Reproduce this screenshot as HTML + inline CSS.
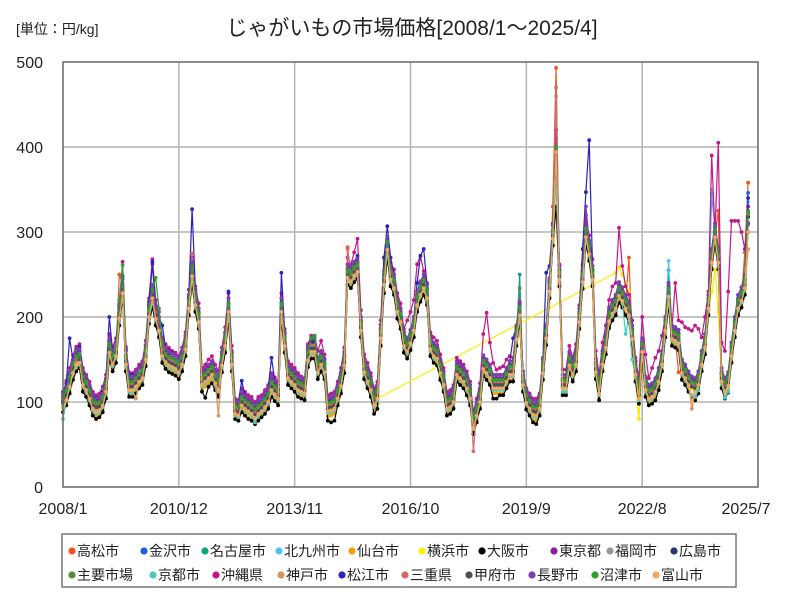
<!DOCTYPE html>
<html><head><meta charset="utf-8"><style>
html,body{margin:0;padding:0;background:#fff;}
body{width:800px;height:600px;overflow:hidden;font-family:"Liberation Sans","Noto Sans CJK JP",sans-serif;}
svg text{font-family:"Liberation Sans","Noto Sans CJK JP",sans-serif;}
</style></head><body>
<svg id="chart" width="800" height="600" xmlns="http://www.w3.org/2000/svg">
<rect width="800" height="600" fill="#fff"/>
<text x="16" y="34" font-size="14" fill="#222">[単位：円/kg]</text>
<text x="412" y="35" font-size="21" text-anchor="middle" fill="#222">じゃがいもの市場価格[2008/1～2025/4]</text>
<g id="grid"></g>
<g id="series"></g>
<rect x="63" y="62" width="695" height="425" fill="none" stroke="#666" stroke-width="1.5"/>
<g id="axes"></g>
<rect x="62" y="534" width="674" height="53" fill="#fff" stroke="#777" stroke-width="1.5"/>
<g id="legend"></g>
</svg>
<script>
const xTickLabels=["2008/1","2010/12","2013/11","2016/10","2019/9","2022/8","2025/7"];
const yTicks=[0,100,200,300,400,500];
const seriesNames=["高松市","金沢市","名古屋市","北九州市","仙台市","横浜市","大阪市","東京都","福岡市","広島市","主要市場","京都市","沖縄県","神戸市","松江市","三重県","甲府市","長野市","沼津市","富山市"];
const seriesColors=["#f4511e","#1a5fe0","#0aa37f","#4fc3f7","#f5a20a","#ffee00","#000000","#8e1a99","#8c9aa6","#283572","#5b8a3a","#4dc9b8","#c2188b","#dd9060","#2b22b8","#d46a6a","#4a4e5a","#7b3fb0","#2ca02c","#f0a860"];
const s0=[100,108,128,138,155,150,124,118,105,95,92,94,100,115,160,148,158,250,240,145,118,116,120,128,130,150,200,225,200,185,158,150,146,144,142,138,148,165,210,250,218,195,120,126,130,135,125,116,145,168,205,145,88,86,98,95,92,90,84,90,92,96,102,116,112,106,200,168,130,126,122,116,114,112,150,160,160,138,146,138,92,92,95,106,122,145,282,245,250,255,185,138,126,116,98,106,178,240,280,245,236,208,196,168,160,170,186,215,228,235,222,164,156,152,136,122,95,97,102,134,130,126,118,106,72,88,102,140,136,130,118,118,118,118,126,134,134,176,234,122,102,95,88,88,95,136,178,232,330,493,240,118,118,145,134,146,196,242,296,276,246,136,112,146,166,198,206,212,226,222,212,270,176,134,106,160,116,106,108,114,126,146,186,225,176,174,135,136,130,122,116,114,122,146,166,212,265,296,325,126,114,122,156,186,214,222,276,358];
const s1=[105,112,130,145,152,155,130,124,112,100,98,98,105,120,168,152,162,208,238,152,122,122,127,132,137,160,210,230,206,192,162,155,150,150,148,143,153,170,220,258,222,202,128,132,137,140,130,122,152,175,215,152,95,92,105,100,97,95,90,95,98,103,108,123,118,112,215,175,137,132,128,123,121,118,158,168,168,144,152,144,98,98,100,112,128,152,255,250,258,262,193,144,132,123,105,112,184,247,290,252,243,215,203,175,168,178,193,224,235,243,230,171,163,160,143,130,100,103,108,141,137,133,125,112,78,93,108,148,143,137,125,125,125,125,133,141,141,183,210,129,108,100,94,92,100,143,184,240,302,410,255,125,125,152,141,153,203,250,305,283,253,144,119,153,173,205,213,219,235,228,219,211,183,141,113,168,123,113,115,121,133,153,193,233,183,181,178,143,137,129,123,121,129,153,173,219,345,305,273,133,121,128,163,193,219,228,243,346];
const s2=[98,106,120,137,146,149,122,116,106,94,90,92,98,114,160,146,156,200,230,146,116,115,120,126,130,152,200,222,200,186,156,149,145,143,141,137,146,164,212,250,216,196,122,126,130,134,124,116,145,168,208,146,88,86,98,94,91,88,80,88,91,96,102,116,111,106,208,168,130,126,122,116,114,112,151,161,161,137,146,137,91,92,94,106,121,145,248,244,251,255,186,137,126,116,98,106,177,240,281,246,236,208,196,168,161,171,186,216,228,236,224,164,156,153,136,122,94,96,102,134,130,126,118,106,72,86,102,141,136,130,118,118,118,118,126,134,134,176,250,122,101,94,87,86,94,136,177,232,294,390,246,118,118,145,134,146,196,243,296,276,246,137,112,146,166,197,206,212,227,221,212,204,176,134,106,161,116,106,108,114,126,146,186,255,176,174,171,136,130,122,116,114,122,146,166,212,266,296,266,126,112,121,156,186,212,221,236,325];
const s3=[108,116,131,147,156,159,132,126,116,104,101,102,108,124,171,156,166,211,241,156,126,126,130,136,140,163,212,234,210,196,166,159,155,153,151,147,156,174,222,261,226,206,132,136,140,144,134,126,155,178,218,156,98,96,108,104,101,98,93,98,101,106,112,126,121,116,218,178,140,136,132,126,124,122,161,171,171,147,156,147,101,102,104,116,131,155,258,254,261,265,196,147,136,126,108,116,187,250,291,256,246,218,206,178,171,181,196,226,238,246,234,174,166,163,146,132,104,106,112,144,140,136,128,116,81,96,112,151,146,140,128,128,128,128,136,144,144,186,214,132,111,104,97,96,104,146,187,242,304,395,256,128,128,155,144,156,206,253,306,286,256,147,122,156,176,207,216,222,237,231,222,214,186,144,116,171,126,116,118,124,136,156,196,266,186,184,181,146,140,132,126,124,132,156,176,222,350,306,276,136,124,131,166,196,222,231,246,335];
const s4=[88,96,112,128,138,140,114,108,98,86,82,84,90,106,150,138,146,190,225,138,108,108,112,118,122,144,194,215,192,178,148,141,137,135,133,128,138,156,204,240,208,188,114,118,122,126,116,108,137,160,198,138,80,78,90,86,82,80,75,80,83,88,94,108,103,98,198,160,122,118,114,108,106,104,143,153,153,129,138,129,83,84,86,98,112,136,238,236,243,247,178,129,118,108,90,98,168,230,272,238,228,200,188,160,153,163,178,208,220,228,216,156,148,145,128,114,86,88,94,126,122,118,110,98,65,78,94,133,128,122,110,110,110,110,118,126,126,168,196,114,93,86,79,78,86,128,169,224,286,380,238,110,110,137,126,138,188,235,288,268,238,129,104,138,158,189,198,204,219,213,204,196,168,126,80,153,108,98,100,106,118,138,178,218,168,166,163,128,122,114,108,106,114,138,158,204,258,288,258,118,106,113,148,178,204,213,228,308];
const s5=[92,100,116,132,142,144,118,112,102,90,86,88,94,110,156,142,152,196,226,142,112,112,116,122,126,148,198,220,196,182,152,145,141,139,137,133,142,160,208,246,212,192,118,122,126,130,120,112,141,164,204,142,84,82,94,90,87,84,79,84,87,92,98,112,107,102,204,164,126,122,118,112,110,108,147,157,157,133,142,133,87,88,90,102,116,140,244,240,247,251,182,133,122,112,102,null,
null,null,null,null,null,null,null,null,null,null,null,null,
null,null,null,null,null,null,null,null,null,null,null,null,
null,null,null,null,null,null,null,null,null,null,null,null,
null,null,null,null,null,null,null,null,null,null,null,null,
null,null,null,null,null,null,null,null,null,null,null,null,
null,null,null,null,null,null,null,null,null,null,null,
252,258,250,240,230,176,134,80,160,116,106,108,114,126,146,186,220,176,174,171,136,130,122,116,114,122,146,166,212,230,255,205,126,114,121,156,186,212,221,236,330];
const s6=[88,96,110,126,136,140,112,106,96,84,80,82,88,104,150,136,146,190,222,136,106,106,110,116,120,142,192,212,190,176,146,139,135,133,131,127,136,154,202,240,206,186,112,105,118,122,114,106,135,158,196,136,80,78,88,84,80,78,74,78,82,86,92,106,101,96,196,158,120,116,112,106,104,102,141,151,151,127,136,127,78,76,78,96,110,134,238,234,241,245,176,127,116,106,86,92,166,228,270,236,226,198,186,158,151,161,176,206,218,226,214,154,146,143,126,112,84,86,92,124,120,116,108,96,62,76,92,131,126,120,104,104,108,108,116,124,124,166,194,112,91,84,76,74,84,126,167,222,284,330,236,108,108,135,124,136,186,233,286,266,236,127,102,136,156,187,196,202,217,211,202,194,166,124,98,151,106,96,98,102,114,136,176,214,166,164,161,126,120,112,106,102,110,136,156,202,256,286,256,116,104,111,146,176,202,211,226,318];
const s7=[106,114,135,146,150,158,134,128,118,104,100,104,108,124,166,158,170,206,230,160,128,126,132,140,140,164,214,262,208,196,168,160,156,152,150,146,156,174,224,262,226,206,134,138,142,146,136,128,156,180,222,158,98,96,108,104,101,100,94,100,100,106,112,126,121,116,222,180,142,136,132,126,124,122,162,172,172,150,158,150,102,102,104,116,131,155,258,254,261,265,196,147,136,126,108,116,187,250,291,256,246,218,206,178,171,181,196,226,238,246,234,174,166,163,146,132,104,106,112,144,140,136,128,116,81,96,112,151,146,140,128,128,128,128,136,144,144,186,214,132,111,104,97,96,104,146,187,242,310,420,256,128,128,155,144,156,206,253,320,286,256,147,122,156,176,207,216,222,237,231,222,214,186,144,116,171,126,116,118,124,136,156,196,236,186,184,181,146,140,132,126,124,132,156,176,222,276,306,276,136,124,131,166,196,222,231,246,330];
const s8=[104,112,127,143,152,155,128,122,112,100,97,98,104,120,167,152,162,207,237,152,122,122,126,132,136,159,208,230,206,192,162,155,151,149,147,143,152,170,218,257,222,202,128,132,136,140,130,122,151,174,214,152,94,92,104,100,97,94,89,94,97,102,108,122,117,112,214,174,136,132,128,122,120,118,157,167,167,143,152,143,97,98,100,112,127,151,254,250,257,261,192,143,132,122,104,112,183,246,287,252,242,214,202,174,167,177,192,222,234,242,230,170,162,159,142,128,100,102,108,140,136,132,124,112,77,92,108,147,142,136,124,124,124,124,132,140,140,182,210,128,107,100,93,92,100,142,183,238,300,460,252,124,124,151,140,152,202,249,302,282,252,143,118,152,172,203,212,218,233,227,218,210,182,140,112,167,122,112,114,120,132,152,192,232,182,180,177,142,136,128,122,120,128,152,172,218,272,302,272,132,120,127,162,192,218,227,242,322];
const s9=[104,118,132,144,158,160,132,122,114,102,98,100,104,122,170,150,160,212,232,155,125,124,128,134,138,160,212,232,208,194,164,158,152,150,146,144,154,172,222,256,224,204,130,134,138,142,132,124,152,176,216,154,94,92,106,102,98,96,90,96,98,104,110,124,119,114,216,176,138,134,130,124,122,120,160,170,170,146,154,146,100,100,102,114,130,154,256,252,259,263,194,145,134,124,106,114,185,248,289,254,244,216,204,176,169,179,194,226,236,244,232,172,164,161,144,130,102,104,110,142,138,134,126,114,79,94,110,149,144,138,126,126,126,126,134,142,142,184,212,130,109,102,95,94,102,144,185,240,300,380,254,126,126,153,142,154,204,251,300,284,254,145,120,154,174,205,214,220,235,229,220,212,184,142,114,169,124,114,116,122,134,154,194,234,184,182,179,144,138,130,124,122,130,154,174,220,274,304,274,134,122,129,164,194,220,229,244,300];
const s10=[102,110,125,141,150,153,126,120,110,98,95,96,102,118,165,150,160,205,235,150,120,120,124,130,134,157,206,228,204,190,160,153,149,147,145,141,150,168,216,255,220,200,126,130,134,138,128,120,149,172,212,150,92,90,102,98,95,92,87,92,95,100,106,120,115,110,212,172,134,130,126,120,118,116,155,165,165,141,150,141,95,96,98,110,125,149,252,248,255,259,190,141,130,120,102,110,181,244,285,250,240,212,200,172,165,175,190,220,232,240,228,168,160,157,140,126,98,100,106,138,134,130,122,110,75,90,106,145,140,134,122,122,122,122,130,138,138,180,208,126,105,98,91,90,98,140,181,236,298,400,250,122,122,149,138,150,200,247,300,280,250,141,116,150,170,201,210,216,231,225,216,208,180,138,110,165,120,110,112,118,130,150,190,230,180,178,175,140,134,126,120,118,126,150,170,216,270,300,270,130,118,125,160,190,216,225,240,320];
const s11=[80,102,116,133,142,145,118,112,102,90,86,88,94,110,156,142,152,196,226,142,112,110,116,122,126,148,196,218,196,182,152,145,141,139,137,133,142,160,208,246,212,192,118,122,126,130,120,112,141,164,204,142,84,82,94,90,87,84,76,84,87,92,98,112,107,102,204,164,126,122,118,112,110,108,147,157,157,133,142,133,87,88,90,102,117,141,244,240,247,251,182,133,122,112,94,102,173,236,277,242,232,204,192,164,157,167,182,212,224,232,220,160,152,149,132,118,90,92,98,130,126,122,114,102,68,82,98,137,132,126,114,114,114,114,122,130,130,172,200,118,97,90,83,82,90,132,173,228,290,360,242,112,112,141,130,142,192,239,292,272,242,133,108,142,162,193,202,208,223,217,180,200,150,130,102,157,112,102,104,110,122,142,182,222,172,170,167,132,126,118,108,106,114,142,162,208,262,292,262,122,105,112,152,182,208,217,232,312];
const s12=[110,125,140,155,165,168,140,132,124,112,108,110,118,132,180,165,175,215,265,165,135,134,138,144,148,172,222,268,220,206,176,168,164,160,158,154,164,182,232,270,236,216,140,144,150,154,144,136,164,188,228,166,104,102,116,112,108,106,100,106,108,114,120,134,129,124,228,186,148,144,140,134,130,128,168,178,178,160,172,156,108,110,112,124,140,164,270,262,276,292,208,156,146,134,116,124,196,270,290,264,256,228,216,186,196,206,220,262,272,254,240,182,176,172,156,140,112,114,120,152,148,144,136,124,88,104,122,180,205,170,146,138,140,142,150,154,152,188,216,136,116,110,104,104,110,152,190,244,300,420,262,138,138,166,152,168,214,262,312,296,268,160,132,170,190,220,236,240,305,260,236,226,196,152,128,200,156,128,140,152,160,178,200,232,188,240,196,194,188,186,184,190,186,176,200,230,390,300,405,170,160,230,313,313,313,300,280,310];
const s13=[96,104,120,136,146,148,120,114,104,92,90,90,96,112,160,146,154,198,228,144,114,114,104,124,128,150,200,222,198,184,154,147,143,141,139,135,144,162,210,248,214,194,120,124,128,132,122,84,143,166,206,144,86,84,96,92,89,86,82,86,89,94,100,114,109,104,206,166,128,124,120,114,112,110,149,159,159,135,144,135,89,90,92,104,119,143,246,242,249,253,184,135,124,114,96,104,175,238,279,244,234,206,194,166,159,169,184,214,226,234,222,162,154,151,134,120,92,94,100,132,128,124,116,104,70,84,100,139,134,128,116,116,116,116,124,132,132,174,202,120,99,92,85,84,92,134,175,230,292,394,244,116,116,143,132,144,194,241,294,274,244,135,110,144,164,195,204,210,225,219,210,202,174,132,104,159,114,104,106,112,124,144,184,224,174,172,169,134,128,120,92,112,120,144,164,210,264,294,264,124,112,119,154,184,210,219,234,280];
const s14=[112,122,175,150,160,165,136,130,120,108,105,106,112,128,200,160,170,215,248,162,132,132,134,140,144,167,218,265,214,200,190,163,160,158,155,151,160,178,226,327,232,210,136,140,144,148,138,130,159,182,230,160,102,100,125,108,105,102,97,102,105,110,116,152,125,120,252,182,144,140,136,130,128,126,165,175,175,151,160,151,105,106,108,120,135,159,262,258,265,272,200,151,140,130,112,120,191,270,307,270,250,222,210,182,175,185,200,240,272,280,238,178,170,167,150,136,108,110,116,148,144,140,132,120,85,100,116,155,150,144,132,132,132,132,140,148,175,190,218,136,115,108,101,100,108,150,252,260,308,390,260,132,132,159,148,160,210,280,347,408,260,151,126,160,180,211,220,226,241,235,226,218,190,148,120,175,130,120,122,128,140,160,200,240,190,188,185,150,144,136,130,128,136,160,180,226,280,310,280,140,128,135,170,200,226,235,250,340];
const s15=[104,112,126,143,152,155,128,122,112,100,96,98,104,120,166,152,162,207,237,152,122,122,126,132,136,160,208,230,206,192,162,155,151,149,147,143,152,170,218,275,222,202,128,132,136,140,130,122,151,174,214,152,94,92,104,100,97,94,89,94,97,102,108,122,117,112,214,174,136,132,128,122,120,118,157,167,167,143,152,143,97,98,100,112,127,151,280,250,257,261,192,143,132,122,104,112,183,246,287,252,242,214,202,174,167,177,192,222,234,242,230,170,162,159,142,128,100,102,108,140,136,132,124,112,42,92,108,147,142,136,124,124,124,124,132,140,140,182,210,128,107,100,93,92,100,142,183,238,300,470,252,124,124,151,140,152,202,249,302,282,252,143,118,152,172,203,212,218,233,227,218,210,182,140,112,167,122,112,114,120,132,152,192,232,182,180,177,142,136,128,122,120,128,152,172,218,272,302,272,132,120,127,162,192,218,227,242,322];
const s16=[100,108,124,140,162,150,128,118,108,96,94,95,100,116,162,148,158,202,232,148,118,118,122,128,132,155,204,226,202,188,158,151,147,145,143,139,148,166,214,252,218,198,124,128,132,136,126,118,147,170,210,148,90,88,100,96,93,90,85,90,93,98,104,118,113,108,210,170,132,128,124,118,116,114,153,163,163,139,148,139,93,94,96,108,123,147,250,246,253,257,188,139,128,118,100,108,179,242,283,248,238,210,198,170,163,173,188,218,230,238,226,166,158,155,138,124,96,98,104,136,132,128,120,108,73,88,104,143,138,132,120,120,120,120,128,136,136,178,206,124,103,96,89,88,96,138,179,234,296,400,248,120,120,147,136,148,198,245,298,278,248,139,114,148,168,199,208,214,229,223,214,206,178,136,108,163,118,108,110,116,128,148,188,228,178,176,173,138,132,124,118,116,124,148,168,214,268,298,268,128,116,123,158,188,214,223,238,300];
const s17=[110,118,134,150,160,162,136,130,120,108,104,106,110,128,175,160,170,215,245,160,130,130,134,140,144,167,216,238,214,200,170,163,159,157,155,151,160,178,226,265,230,210,136,140,144,148,138,130,159,182,222,160,102,100,112,108,105,102,97,102,105,110,116,130,125,120,222,182,144,140,136,130,128,126,165,175,175,151,160,151,105,106,108,120,135,159,262,258,265,269,200,151,140,130,112,120,191,254,295,260,250,222,210,182,175,185,200,230,242,250,238,178,170,167,150,136,108,110,116,148,144,140,132,120,85,100,116,155,150,144,132,132,132,132,140,148,148,190,218,136,115,108,101,100,108,150,191,246,308,400,260,132,132,159,148,160,210,257,330,290,260,151,126,160,180,211,220,226,241,235,226,218,190,148,120,175,130,120,122,128,140,160,200,240,190,188,185,150,144,136,130,128,136,160,180,226,280,310,280,140,128,135,170,200,226,235,250,310];
const s18=[106,114,129,145,154,157,130,124,114,102,99,100,106,122,169,154,164,220,261,154,124,124,128,134,138,161,210,232,246,210,170,157,153,151,149,145,154,172,220,259,224,204,130,134,138,142,132,124,153,176,216,154,96,94,106,102,99,96,91,96,99,104,110,124,119,114,216,176,138,134,130,124,122,120,159,175,178,145,154,145,99,100,102,114,129,153,256,252,259,263,194,145,134,124,106,114,185,248,289,254,244,216,204,176,169,179,194,224,236,244,232,172,164,161,144,130,102,104,110,142,138,134,126,114,79,94,110,149,144,138,126,126,126,126,134,142,142,184,212,130,109,102,95,94,102,144,185,240,302,400,254,126,126,153,142,154,204,251,304,284,254,145,120,154,174,205,214,220,235,229,220,212,184,142,114,169,124,114,116,122,134,154,194,234,184,182,179,144,138,130,124,122,130,154,174,220,274,304,274,134,122,129,164,194,220,229,244,324];
const s19=[94,102,118,134,144,146,120,114,104,92,88,90,96,112,158,144,154,198,228,144,114,114,118,124,128,150,200,222,198,184,154,147,143,141,139,135,144,162,210,248,214,194,120,124,128,132,122,114,143,166,206,144,86,84,96,92,89,86,81,86,89,94,100,114,109,104,206,166,128,124,120,114,112,110,149,159,159,135,144,135,89,90,92,104,119,143,246,242,249,253,184,135,124,114,96,104,175,238,279,244,234,206,194,166,159,169,184,214,226,234,222,162,154,151,134,120,92,94,100,132,128,124,116,104,69,84,100,139,134,128,116,116,116,116,124,132,132,174,202,120,99,92,85,84,92,134,175,230,292,394,244,116,116,143,132,144,194,241,294,274,244,135,110,144,164,195,204,210,225,219,210,202,174,132,104,159,114,104,106,112,124,144,184,224,174,172,169,134,128,120,100,112,120,144,164,210,264,294,264,124,112,119,154,184,210,219,234,300];
const seriesData=[s0,s1,s2,s3,s4,s5,s6,s7,s8,s9,s10,s11,s12,s13,s14,s15,s16,s17,s18,s19];

const NS="http://www.w3.org/2000/svg";
const PL=63,PR=758,PT=62,PB=487,YMAX=500,MONTHS=210;
function xScale(m){return PL+(PR-PL)*m/MONTHS;}
function yScale(v){return PB-(PB-PT)*v/YMAX;}
function mk(tag,attrs,parent){const e=document.createElementNS(NS,tag);for(const k in attrs)e.setAttribute(k,attrs[k]);parent.appendChild(e);return e;}
const grid=document.getElementById('grid'),axes=document.getElementById('axes'),ser=document.getElementById('series'),leg=document.getElementById('legend');
yTicks.forEach(v=>{
  if(v>0&&v<YMAX){const l=mk('line',{x1:PL,x2:PR,y1:yScale(v),y2:yScale(v),stroke:'#b4b4b4','stroke-width':1.5},grid);
  
  }
  const t=mk('text',{x:43,y:yScale(v)+6,'font-size':16,'text-anchor':'end',fill:'#222'},axes);
  
  
  t.textContent=v;
});
xTickLabels.forEach((lab,i)=>{
  const m=i*35;
  if(i>0&&i<xTickLabels.length-1){const l=mk('line',{x1:xScale(m),x2:xScale(m),y1:PT,y2:PB,stroke:'#b4b4b4','stroke-width':1.5},grid);
  
  }
  let x=xScale(m); if(i===xTickLabels.length-1)x=746;
  const t=mk('text',{x:x,y:514,'font-size':16,'text-anchor':'middle',fill:'#222'},axes);
  
  
  t.textContent=lab;
});
seriesData.forEach((arr,si)=>{
  const g=mk('g',{},ser);
  
  
  let d='';
  arr.forEach((v,m)=>{if(v===null)return;d+=(d?'L':'M')+xScale(m).toFixed(1)+','+yScale(v).toFixed(1);});
  const p=mk('path',{d:d,fill:'none',stroke:seriesColors[si],'stroke-width':1.2},g);
  
  
  arr.forEach((v,m)=>{if(v===null)return;
    const c=mk('circle',{cx:xScale(m).toFixed(1),cy:yScale(v).toFixed(1),r:1.9,fill:seriesColors[si]},g);
    
    
  });
});
const legX=[[71,143,204,278,351,421,481,553,609,673],[71,152,215,280,341,404,468,531,594,655]];
seriesNames.forEach((n,i)=>{
  const row=Math.floor(i/10),col=i%10;
  const y=row===0?551:575;
  const x=legX[row][col];
  const g=mk('g',{},leg);
  
  
  mk('circle',{cx:x+1,cy:y,r:3.6,fill:seriesColors[i]},g);
  const t=mk('text',{x:x+6,y:y+5,'font-size':14,fill:'#222'},g);
  t.textContent=n;
});
</script>
</body></html>
